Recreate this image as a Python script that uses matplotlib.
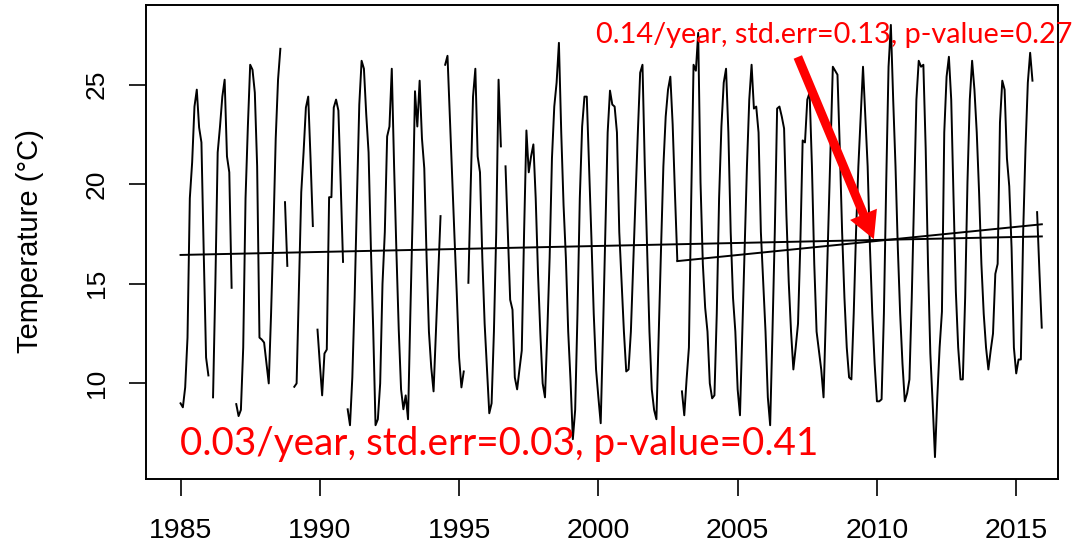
import numpy as np
import matplotlib
matplotlib.use("Agg")
import matplotlib.pyplot as plt

NA = np.nan

# monthly water temperature (deg C), Jan 1985 .. Dec 2015, one row per year
temp_monthly = [
    9.0, 8.8, 9.8, 12.3, 19.3, 21.1, 23.9, 24.75, 22.85, 22.1, 16.5, 11.3,   # 1985
    10.4, NA, 9.3, 15.0, 21.6, 22.9, 24.4, 25.25, 21.4, 20.6, 14.8, NA,      # 1986
    8.96, 8.36, 8.67, 11.8, 19.3, 22.9, 26.0, 25.75, 24.6, 20.9, 12.3, 12.2,  # 1987
    12.05, 11.0, 10.0, 13.5, 17.6, 22.3, 25.25, 26.8, NA, 19.1, 15.9, NA,     # 1988
    NA, 9.83, 10.0, 14.8, 19.6, 21.6, 23.85, 24.4, 21.3, 17.9, NA, 12.7,      # 1989
    11.0, 9.4, 11.5, 11.7, 19.35, 19.35, 23.85, 24.25, 23.7, 20.0, 16.1, NA,  # 1990
    8.7, 7.9, 10.3, 14.3, 19.3, 24.0, 26.2, 25.8, 23.5, 21.6, 16.8, 12.7,     # 1991
    7.9, 8.2, 10.0, 15.0, 17.6, 22.4, 22.9, 25.8, 20.9, 16.6, 12.7, 9.7,      # 1992
    8.7, 9.4, 8.2, 13.5, 18.5, 24.67, 22.9, 25.2, 22.3, 20.8, 16.3, 12.6,     # 1993
    10.8, 9.6, 12.5, 15.3, 18.4, NA, 26.0, 26.45, 23.4, 20.4, 17.4, 14.5,     # 1994
    11.3, 9.8, 10.6, NA, 15.05, 19.9, 24.4, 25.8, 21.4, 20.6, 16.3, 13.0,     # 1995
    10.8, 8.5, 9.0, 12.6, 17.6, 25.25, 21.9, NA, 20.9, 17.6, 14.2, 13.7,      # 1996
    10.3, 9.7, 10.7, 11.65, 17.6, 22.7, 20.6, 21.4, 22.0, 19.3, 15.5, 12.5,   # 1997
    10.0, 9.3, 12.6, 16.3, 21.3, 23.9, 25.1, 27.1, 22.6, 18.95, 16.3, 12.6,   # 1998
    10.15, 7.2, 8.67, 13.5, 19.3, 22.9, 24.4, 24.4, 20.9, 17.3, 13.5, 10.7,   # 1999
    9.3, 8.0, 12.6, 17.6, 22.6, 24.7, 24.0, 23.9, 22.6, 17.6, 15.1, 12.6,     # 2000
    10.6, 10.7, 12.6, 16.0, 19.3, 22.6, 25.6, 26.0, 20.9, 16.8, 12.6, 9.7,    # 2001
    8.67, 8.2, 12.6, 16.8, 20.9, 23.4, 24.75, 25.4, 23.0, 19.5, 16.2, NA,     # 2002
    9.6, 8.4, 10.2, 11.8, 19.3, 26.0, 25.7, 27.6, 20.1, 16.0, 13.8, 12.6,     # 2003
    10.0, 9.25, 9.4, 13.5, 19.3, 22.9, 25.1, 25.8, 22.6, 17.6, 14.3, 12.6,    # 2004
    9.7, 8.4, 12.6, 16.8, 20.9, 24.25, 26.0, 23.8, 23.9, 22.6, 17.6, 15.1,    # 2005
    12.6, 9.3, 7.9, 12.6, 17.6, 23.8, 23.9, 23.4, 22.8, 18.45, 15.1, 12.6,    # 2006
    10.7, 11.8, 13.0, 17.0, 22.2, 22.1, 24.25, 24.6, 20.9, 16.0, 12.6, 11.65, # 2007
    10.7, 9.3, 13.5, 17.6, 21.8, 25.9, 25.7, 25.5, 21.8, 17.6, 14.3, 11.8,    # 2008
    10.3, 10.2, 13.5, 17.6, 20.9, 23.4, 25.9, 23.4, 20.9, 16.8, 13.5, 11.0,   # 2009
    9.1, 9.1, 9.2, 13.5, 20.1, 25.9, 28.0, 24.25, 20.9, 16.8, 13.5, 11.0,     # 2010
    9.1, 9.5, 10.2, 14.3, 19.3, 24.25, 26.2, 25.9, 26.0, 21.8, 16.0, 11.5,    # 2011
    9.0, 6.3, 9.3, 11.8, 13.6, 22.6, 25.4, 26.4, 24.25, 19.3, 14.6, 11.8,     # 2012
    10.2, 10.2, 14.3, 20.1, 24.25, 26.2, 24.75, 22.6, 19.6, 16.0, 13.5, 11.8, # 2013
    10.7, 11.65, 12.5, 15.5, 16.0, 23.1, 25.2, 24.75, 21.3, 19.9, 16.8, 11.8, # 2014
    10.5, 11.2, 11.2, 17.6, 21.8, 25.1, 26.6, 25.2, NA, 18.6, 15.6, 12.8,     # 2015
]
start_year = 1985

# fitted trend lines (end points)
trend_all_x = [1985.0, 2015.92]
trend_all_y = [16.45, 17.38]
trend_recent_x = [2002.83, 2015.92]
trend_recent_y = [16.14, 17.99]

label_all = "0.03/year, std.err=0.03, p-value=0.41"
label_recent = "0.14/year, std.err=0.13, p-value=0.27"

x_ticks = [1985, 1990, 1995, 2000, 2005, 2010, 2015]
y_ticks = [10, 15, 20, 25]

temp = np.array(temp_monthly, dtype=float)
t = start_year + np.arange(len(temp)) / 12.0

fig = plt.figure(figsize=(10.76, 5.48), dpi=100)
ax = fig.add_axes([146 / 1076, 1 - 479 / 548, 912 / 1076, 474 / 548])

ax.plot(t, temp, color="black", lw=1.4)
ax.plot(trend_all_x, trend_all_y, color="black", lw=1.4)
ax.plot(trend_recent_x, trend_recent_y, color="black", lw=1.4)

ax.set_xlim(1983.76, 2016.5)
ax.set_ylim(5.2, 29.0)

ax.set_xticks(x_ticks)
ax.set_xticklabels([str(v) for v in x_ticks], family="Liberation Sans", size=20.5)
ax.set_yticks(y_ticks)
ax.set_yticklabels([str(v) for v in y_ticks], family="Liberation Sans", size=19,
                   rotation=90, va="center")
ax.tick_params(direction="out", length=12, width=1.2, color="black")
ax.tick_params(axis="x", pad=16)
ax.tick_params(axis="y", pad=15)
for s in ax.spines.values():
    s.set_linewidth(1.4)

fig.text(30 / 1076, 1 - 241 / 548, "Temperature (\u00b0C)", rotation=90,
         ha="center", va="center", family="Liberation Sans", size=21)

ax.text(1984.98, 6.4, label_all, color="red", family="Lato", size=27.8,
        ha="left", va="baseline")
ax.text(2017.0, 27.1, label_recent, color="red", family="Lato", size=20.8,
        ha="right", va="baseline", clip_on=False)

ax.annotate("", xy=(2009.89, 17.24), xytext=(2007.16, 26.39),
            arrowprops=dict(arrowstyle="simple,head_length=1.94,head_width=2.09,tail_width=0.65",
                            mutation_scale=10, color="red", lw=0,
                            shrinkA=0, shrinkB=0))

fig.savefig("out.png", dpi=100)
